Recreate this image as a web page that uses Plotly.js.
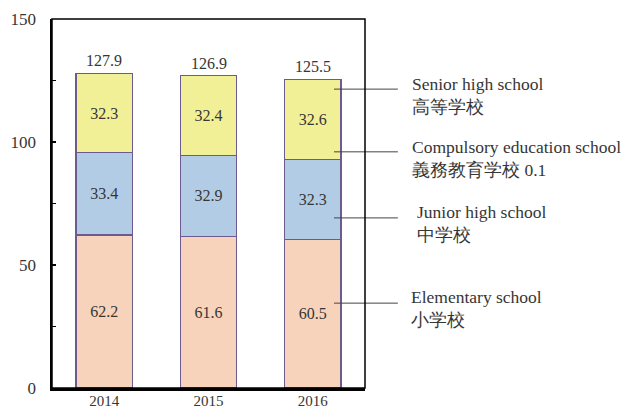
<!DOCTYPE html>
<html>
<head>
<meta charset="utf-8">
<script src="https://cdn.plot.ly/plotly-3.0.1.min.js"></script>
<style>html,body{margin:0;padding:0;background:#fff;}#chart{width:627px;height:408px;}</style>
</head>
<body>
<div id="chart"></div>
<script>
// ---- data ----
const years = ['2014', '2015', '2016'];
const elementary = [62.2, 61.6, 60.5];
const juniorHigh = [33.4, 32.9, 32.3];
const compulsory = [0, 0, 0.1];
const seniorHigh = [32.3, 32.4, 32.6];
const totals = [127.9, 126.9, 125.5];
const seriesLabels = [
  'Senior high school<br>高等学校',
  'Compulsory education school<br>義務教育学校 0.1',
  'Junior high school<br>中学校',
  'Elementary school<br>小学校'
];
const yTickVals = [0, 50, 100, 150];

// ---- styling ----
const FONT = 'Liberation Serif';
const TXT = '#363636';
const OUTLINE = '#6b5b8e';

function barTrace(vals, color, showText) {
  return {
    type: 'bar', x: years, y: vals,
    marker: {color: color, line: {color: OUTLINE, width: 1.2}},
    width: 0.54,
    text: vals.map(v => v.toFixed(1)),
    textposition: showText ? 'inside' : 'none',
    insidetextanchor: 'middle',
    insidetextfont: {family: FONT, size: 16, color: TXT},
    textfont: {family: FONT, size: 16, color: TXT},
    hoverinfo: 'skip'
  };
}

const traces = [
  barTrace(elementary, '#f7d3bb', true),
  barTrace(juniorHigh, '#b3cce5', true),
  barTrace(compulsory, '#b3cce5', false),
  barTrace(seniorHigh, '#f2f096', true)
];

const annotations = years.map((yr, i) => ({
  x: i, y: totals[i], xref: 'x', yref: 'y',
  text: totals[i].toFixed(1), showarrow: false,
  yanchor: 'bottom', yshift: 2,
  font: {family: FONT, size: 16, color: TXT}
}));

// callout positions (paper coords)
const calloutLineY = [0.810, 0.640, 0.461, 0.230];
const calloutTextY = [0.794, 0.623, 0.447, 0.215];
const calloutTextX = [1.144, 1.144, 1.160, 1.141];
seriesLabels.forEach((lab, i) => {
  annotations.push({
    x: calloutTextX[i], y: calloutTextY[i], xref: 'paper', yref: 'paper',
    text: lab, showarrow: false, xanchor: 'left', yanchor: 'middle', align: 'left',
    font: {family: FONT, size: 17.5, color: TXT}
  });
});

const shapes = calloutLineY.map(y => ({
  type: 'line', xref: 'paper', yref: 'paper',
  x0: 0.901, x1: 1.105, y0: y, y1: y,
  line: {color: '#444', width: 1}
}));
shapes.push({
  type: 'rect', xref: 'paper', yref: 'paper', x0: 0, x1: 1, y0: 0, y1: 1,
  line: {color: '#000', width: 1.5}, layer: 'above'
});

const layout = {
  width: 627, height: 408,
  margin: {l: 52, r: 262, t: 19, b: 20},
  paper_bgcolor: '#fff', plot_bgcolor: '#fff',
  barmode: 'stack',
  showlegend: false,
  font: {family: FONT, size: 16, color: TXT},
  xaxis: {
    type: 'category', range: [-0.5, 2.5],
    showline: true, linecolor: '#000', linewidth: 2.5,
    ticks: '', showgrid: false, zeroline: false,
    ticklabelstandoff: -3,
    tickfont: {family: FONT, size: 15, color: TXT}
  },
  yaxis: {
    range: [0, 150], tickvals: yTickVals, ticktext: yTickVals.map(String),
    showline: true, linecolor: '#000', linewidth: 2.5,
    ticks: 'inside', ticklen: 4, tickwidth: 1.2, tickcolor: '#000',
    minor: {ticks: 'inside', ticklen: 4, tickwidth: 1.2, tickcolor: '#000', dtick: 25, showgrid: false},
    showgrid: false, zeroline: false,
    ticklabelstandoff: 10,
    tickfont: {family: FONT, size: 17, color: TXT}
  },
  annotations: annotations,
  shapes: shapes
};

Plotly.newPlot('chart', traces, layout, {displayModeBar: false, staticPlot: true});
</script>
</body>
</html>
